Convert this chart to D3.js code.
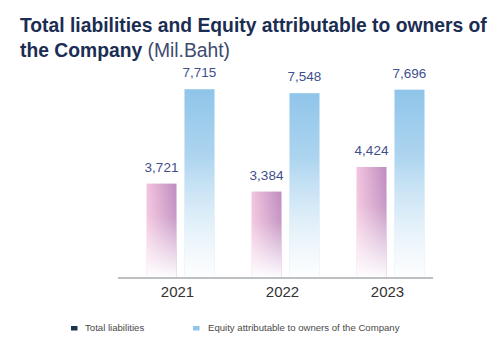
<!DOCTYPE html>
<html lang="en">
<head>
<meta charset="UTF-8">
<title>Total liabilities and Equity</title>
<script src="https://d3js.org/d3.v7.min.js"></script>
<style>
    body { margin: 0; background: white; }
    svg { display: block; font-family: "Liberation Sans", Arial, sans-serif; }
    .title { font-size: 19.3px; font-weight: bold; fill: #1b2d52; }
    .unit { font-weight: normal; fill: #3d4a6e; }
    .value { font-size: 13.5px; fill: #3f4f8e; text-anchor: middle; }
    .year text { font-size: 15px; fill: #333; }
    .legend text { font-size: 9.6px; fill: #4a4a4a; }
</style>
</head>
<body>
<script>
const years = ["2021", "2022", "2023"];
const series = ["Total liabilities", "Equity attributable to owners of the Company"];
const liabilities = [3721, 3384, 4424];
const equity = [7715, 7548, 7696];

const width = 502, height = 344;
const svg = d3.select("body").append("svg")
    .attr("width", width)
    .attr("height", height);

// gradients: pink bars shade left to right, blue bars top to bottom, both fade out at the base
const defs = svg.append("defs");
const pink = defs.append("linearGradient").attr("id", "pink").attr("x1", 0).attr("x2", 1).attr("y1", 0).attr("y2", 0);
pink.append("stop").attr("offset", "0%").attr("stop-color", "#f3c4de");
pink.append("stop").attr("offset", "100%").attr("stop-color", "#c08cc0");
const blue = defs.append("linearGradient").attr("id", "blue").attr("x1", 0).attr("x2", 0).attr("y1", 0).attr("y2", 1);
blue.append("stop").attr("offset", "0%").attr("stop-color", "#8fc5ea");
blue.append("stop").attr("offset", "100%").attr("stop-color", "#c9e3f4");
const fade = defs.append("linearGradient").attr("id", "fade").attr("x1", 0).attr("x2", 0).attr("y1", 0).attr("y2", 1);
fade.append("stop").attr("offset", "0%").attr("stop-color", "white").attr("stop-opacity", 0);
fade.append("stop").attr("offset", "35%").attr("stop-color", "white").attr("stop-opacity", 0.1);
fade.append("stop").attr("offset", "100%").attr("stop-color", "white").attr("stop-opacity", 0.97);

// title
const title = svg.append("text").attr("class", "title").attr("x", 20).attr("y", 32);
title.append("tspan").text("Total liabilities and Equity attributable to owners of");
const t2 = svg.append("text").attr("class", "title").attr("x", 20).attr("y", 57);
t2.append("tspan").text("the Company ");
t2.append("tspan").attr("class", "unit").text("(Mil.Baht)");

// scales
const x0 = d3.scaleBand().domain(years).range([125, 440]);
const x1 = d3.scaleBand().domain(series).range([-31, 37]).paddingInner(0.21);
const y = d3.scaleLinear().domain([0, 8000]).range([271.5, 82.5]);
const baseY = 277;

const data = years.map((yr, i) => ({ year: yr, values: [liabilities[i], equity[i]] }));

const groups = svg.append("g").selectAll("g")
    .data(data)
    .join("g")
    .attr("transform", d => `translate(${x0(d.year) + x0.bandwidth() / 2},0)`);

const bars = groups.selectAll("g")
    .data(d => d.values.map((v, j) => ({ name: series[j], value: v, j: j })))
    .join("g");

bars.append("rect")
    .attr("x", d => x1(d.name))
    .attr("y", d => y(d.value))
    .attr("width", x1.bandwidth())
    .attr("height", d => baseY - y(d.value))
    .attr("fill", d => d.j === 0 ? "url(#pink)" : "url(#blue)");

bars.append("rect")
    .attr("x", d => x1(d.name))
    .attr("y", d => y(d.value))
    .attr("width", x1.bandwidth())
    .attr("height", d => baseY - y(d.value))
    .attr("fill", "url(#fade)");

bars.append("text")
    .attr("class", "value")
    .attr("x", d => x1(d.name) + x1.bandwidth() / 2)
    .attr("y", d => y(d.value) - 12)
    .text(d => d3.format(",")(d.value));

// x axis
const xAxis = svg.append("g").attr("class", "year")
    .attr("transform", `translate(0,${baseY + 1})`)
    .call(d3.axisBottom(x0).tickSize(0).tickPadding(8));
xAxis.select(".domain").attr("d", "M-7,0H308").attr("transform", `translate(${125},0)`)
    .attr("stroke", "#7a8288").attr("stroke-width", 1.2);
xAxis.selectAll("text").attr("font-family", null).attr("font-size", null).attr("fill", null);

// legend
const legend = svg.append("g").attr("class", "legend")
    .selectAll("g")
    .data(series)
    .join("g")
    .attr("transform", (d, i) => `translate(${i === 0 ? 71 : 193},326)`);
legend.append("rect")
    .attr("width", 6.5).attr("height", 4.5)
    .attr("fill", (d, i) => i === 0 ? "#1d3350" : "#8fc5ea");
legend.append("text")
    .attr("x", (d, i) => i === 0 ? 14 : 15)
    .attr("y", 5)
    .text(d => d);
</script>
</body>
</html>
